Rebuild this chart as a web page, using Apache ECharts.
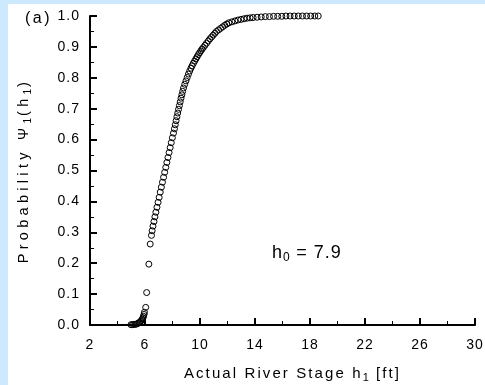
<!DOCTYPE html>
<html>
<head>
<meta charset="utf-8">
<script src="https://cdn.jsdelivr.net/npm/echarts@6/dist/echarts.min.js"></script>
<style>
html,body{margin:0;padding:0;background:#cce9fd;width:485px;height:385px;overflow:hidden;}
#chart{position:absolute;left:8px;top:4px;width:477px;height:381px;background:#ffffff;}
</style>
</head>
<body>
<div id="chart"></div>
<script>
// Actual river stage h1 [ft]
var stageH1 = [
  4.98, 5.08, 5.18, 5.28, 5.38, 5.47, 5.55, 5.62, 5.69, 5.75, 5.80, 5.85, 5.89, 5.93, 5.96,
  6.05, 6.12, 6.28, 6.38,
  6.47, 6.52, 6.58, 6.65, 6.72, 6.79, 6.87, 6.95, 7.03, 7.11, 7.19, 7.27, 7.35, 7.43, 7.51,
  7.59, 7.67, 7.75, 7.83, 7.91, 7.99, 8.07,
  8.14, 8.20, 8.26, 8.32, 8.38, 8.44, 8.50, 8.56, 8.62, 8.68, 8.74, 8.80,
  8.89, 8.98, 9.07, 9.16, 9.25, 9.34, 9.43, 9.52,
  9.61, 9.70, 9.79, 9.88, 9.97, 10.06, 10.15, 10.24,
  10.36, 10.48, 10.60, 10.72, 10.84, 10.96, 11.08, 11.20,
  11.35, 11.50, 11.65, 11.80, 11.95, 12.10,
  12.32, 12.54, 12.76, 12.98, 13.20, 13.42, 13.64, 13.86,
  14.15, 14.45, 14.75, 15.05, 15.35, 15.65, 15.95, 16.25, 16.55, 16.85, 17.15, 17.45,
  17.75, 18.05, 18.35, 18.60
];
// Probability Psi1(h1)
var probPsi1 = [
  0.001, 0.001, 0.002, 0.002, 0.003, 0.005, 0.007, 0.009, 0.012, 0.015, 0.019, 0.023, 0.028, 0.034, 0.041,
  0.057, 0.105, 0.197, 0.262,
  0.290, 0.305, 0.320, 0.335, 0.350, 0.365, 0.381, 0.397, 0.413, 0.430, 0.446, 0.462, 0.478, 0.494, 0.510,
  0.526, 0.542, 0.558, 0.574, 0.590, 0.606, 0.621,
  0.635, 0.648, 0.661, 0.674, 0.686, 0.698, 0.710, 0.722, 0.734, 0.745, 0.756, 0.767,
  0.779, 0.790, 0.801, 0.812, 0.822, 0.831, 0.839, 0.847,
  0.854, 0.861, 0.868, 0.875, 0.881, 0.887, 0.893, 0.898,
  0.905, 0.912, 0.919, 0.926, 0.932, 0.938, 0.944, 0.950,
  0.955, 0.960, 0.965, 0.970, 0.974, 0.978,
  0.981, 0.984, 0.987, 0.989, 0.991, 0.993, 0.994, 0.995,
  0.996, 0.997, 0.998, 0.998, 0.999, 0.999, 0.999, 1.000, 1.000, 1.000, 1.000, 1.000,
  1.000, 1.000, 1.000, 1.000
];
var xTickLabels = ['2', '6', '10', '14', '18', '22', '26', '30'];
var yTickLabels = ['0.0', '0.1', '0.2', '0.3', '0.4', '0.5', '0.6', '0.7', '0.8', '0.9', '1.0'];
var panelLabel = '(a)';
var annotationH0 = '7.9';

// The reference typesetting is widely letter-spaced; emulate it per font size.
(function () {
  var spacingBySize = {'14': 1.0, '14.5': 4.3, '10': 2, '15': 2.1, '11': 1, '16': 2.5, '18': 1.0, '12': 0.5};
  var P = CanvasRenderingContext2D.prototype;
  if (!('letterSpacing' in P)) return;
  function apply(ctx) {
    var m = /(\d+(?:\.\d+)?)px/.exec(ctx.font || '');
    var s = m ? spacingBySize[String(parseFloat(m[1]))] : 0;
    ctx.letterSpacing = (s || 0) + 'px';
  }
  var origFill = P.fillText, origStroke = P.strokeText, origMeasure = P.measureText;
  P.fillText = function () { apply(this); return origFill.apply(this, arguments); };
  P.strokeText = function () { apply(this); return origStroke.apply(this, arguments); };
  P.measureText = function () { apply(this); return origMeasure.apply(this, arguments); };
})();

var FONT = '"Liberation Sans", Arial, sans-serif';
var points = stageH1.map(function (x, i) { return [x, probPsi1[i]]; });

var chart = echarts.init(document.getElementById('chart'), null, {renderer: 'canvas'});
chart.setOption({
  animation: false,
  backgroundColor: '#ffffff',
  grid: {left: 82, right: 10, top: 12, bottom: 60, containLabel: false, outerBoundsMode: 'none'},
  xAxis: {
    type: 'value', min: 2, max: 30, interval: 4,
    axisLine: {show: true, onZero: false, lineStyle: {color: '#000', width: 2}},
    axisTick: {show: true, inside: true, length: 7, lineStyle: {color: '#000', width: 2}},
    minorTick: {show: true, splitNumber: 2, length: 4, lineStyle: {color: '#000', width: 1}},
    splitLine: {show: false},
    axisLabel: {
      color: '#000', fontFamily: FONT, fontSize: 14, margin: 13,
      formatter: function (v) { var i = Math.round((v - 2) / 4); return xTickLabels[i] || ''; }
    },
    name: 'Actual River Stage h{sub|1} [ft]',
    nameLocation: 'middle', nameGap: 39,
    nameTextStyle: {
      color: '#000', fontFamily: FONT, fontSize: 15, padding: [0, 0, 0, 20],
      rich: {sub: {fontSize: 11, fontFamily: FONT, color: '#000', padding: [8, 0, 0, 0]}}
    }
  },
  yAxis: {
    type: 'value', min: 0, max: 1, interval: 0.1,
    axisLine: {show: true, onZero: false, lineStyle: {color: '#000', width: 2}},
    axisTick: {show: true, inside: true, length: 7, lineStyle: {color: '#000', width: 2}},
    minorTick: {show: true, splitNumber: 2, length: 4, lineStyle: {color: '#000', width: 1}},
    splitLine: {show: false},
    axisLabel: {
      color: '#000', fontFamily: FONT, fontSize: 14, margin: 10,
      formatter: function (v) { var i = Math.round(v * 10); return yTickLabels[i] || ''; }
    },
    name: 'Probability \u03A8{sub|1}(h{sub|1})',
    nameLocation: 'middle', nameGap: 56, nameRotate: 90,
    nameTextStyle: {
      color: '#000', fontFamily: FONT, fontSize: 14.5,
      rich: {sub: {fontSize: 10, fontFamily: FONT, color: '#000', padding: [7, 0, 0, 0]}}
    }
  },
  series: [{
    type: 'scatter',
    data: points,
    symbol: 'circle',
    symbolSize: 6,
    itemStyle: {color: 'rgba(0,0,0,0)', borderColor: '#000', borderWidth: 1, opacity: 1}
  }],
  graphic: [
    {
      type: 'text', left: 17, top: 5,
      style: {text: panelLabel, fill: '#000', font: '16px ' + FONT}
    },
    {
      type: 'text', left: 264, top: 240,
      style: {
        text: 'h{sub|0} = ' + annotationH0, fill: '#000', font: '18px ' + FONT,
        rich: {sub: {fontSize: 12, fontFamily: FONT, fill: '#000', padding: [9, 0, 0, 0]}}
      }
    }
  ]
});
</script>
</body>
</html>
